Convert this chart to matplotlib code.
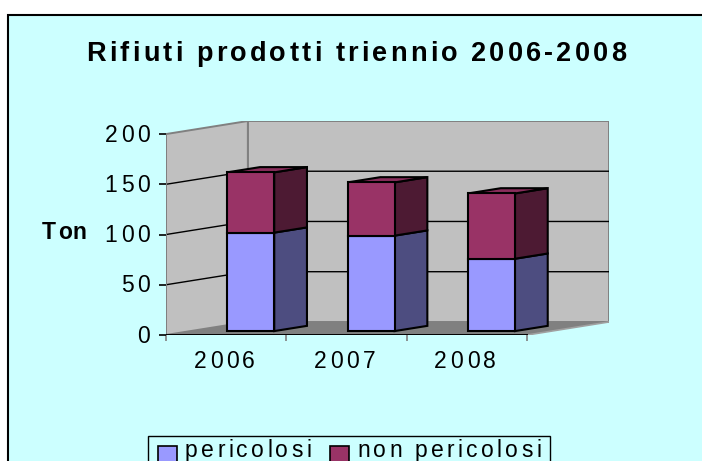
import matplotlib.pyplot as plt
from matplotlib.patches import Polygon, Rectangle

plt.rcParams['font.family'] = ['Liberation Sans', 'DejaVu Sans']

# Data (Ton)
years = ['2006', '2007', '2008']
pericolosi = [98, 95, 72]
non_pericolosi = [60, 53, 65]
series_names = ['pericolosi', 'non pericolosi']
y_ticks = [0, 50, 100, 150, 200]

# colours (front, side, top)
col_per = ('#9999FF', '#4D4D80', '#7A7ACC')
col_non = ('#993366', '#4D1A33', '#8A2E5C')
wall_col = '#C0C0C0'
floor_col = '#808080'
bg_col = '#CCFFFF'

# 3D look, expressed in data units
DX = 0.68     # depth offset along x
DY = 13.0     # depth offset along y
half_w = 0.195
f0 = 0.3      # where the bar starts in depth
bd = 0.4      # bar depth fraction
y_max = 200

W, H = 702, 461
fig = plt.figure(figsize=(W / 100, H / 100), dpi=100, facecolor='white')
renderer = fig.canvas.get_renderer()

# chart area background with frame
fig.patches.append(Rectangle((8 / W, -0.2), 1.2, (H - 15) / H + 0.2,
                             transform=fig.transFigure, facecolor=bg_col,
                             edgecolor='black', linewidth=1.5, zorder=-1))


def text_width(s, **kw):
    # width of s, measured with a trailing bar so spaces count
    if not s:
        return 0.0
    t = fig.text(0, 0, s + '|', **kw)
    a = t.get_window_extent(renderer).width
    t.remove()
    t = fig.text(0, 0, '|', **kw)
    b = t.get_window_extent(renderer).width
    t.remove()
    return a - b


def tracked_text(x, y, s, track, ha='left', **kw):
    # x, y in pixels from the top-left corner, y is the baseline
    total = text_width(s, **kw) + track * (len(s) - 1)
    if ha == 'center':
        start = x - total / 2
    elif ha == 'right':
        start = x - total
    else:
        start = x
    for k, ch in enumerate(s):
        if ch == ' ':
            continue
        px = start + text_width(s[:k], **kw) + track * k
        fig.text(px / W, 1 - y / H, ch, ha='left', va='baseline', **kw)


ax = fig.add_axes([166 / W, (H - 335) / H, (609 - 166) / W, (335 - 121) / H])
ax.set_facecolor('none')
ax.set_xlim(-0.5, len(years) - 0.5 + DX)
ax.set_ylim(0, y_max + DY)
for s in ax.spines.values():
    s.set_visible(False)

x0, x1 = -0.5, len(years) - 0.5

# walls and floor
ax.add_patch(Polygon([(x0, 0), (x1, 0), (x1 + DX, DY), (x0 + DX, DY)],
                     closed=True, facecolor=floor_col, edgecolor='none', zorder=1))
ax.add_patch(Polygon([(x0, 0), (x0 + DX, DY), (x0 + DX, y_max + DY), (x0, y_max)],
                     closed=True, facecolor=wall_col, edgecolor='#808080',
                     linewidth=1.4, zorder=1))
ax.add_patch(Polygon([(x0 + DX, DY), (x1 + DX, DY), (x1 + DX, y_max + DY), (x0 + DX, y_max + DY)],
                     closed=True, facecolor=wall_col, edgecolor='#808080',
                     linewidth=1.4, zorder=1))
ax.plot([x1, x1 + DX], [0, DY], color='#A0A0A0', lw=1.2, zorder=2)

# gridlines on the walls
for v in y_ticks[1:-1]:
    ax.plot([x0, x0 + DX, x1 + DX], [v, v + DY, v + DY], color='black', lw=1.0, zorder=2)

# axis lines
ax.plot([x0, x0], [0, y_max], color='#808080', lw=1.4, zorder=3)
ax.plot([x0, x1], [0, 0], color='black', lw=1.4, zorder=3)

ox, oy = f0 * DX, f0 * DY
sx, sy = bd * DX, bd * DY


def draw_segment(i, bottom, height, cols, top=False):
    a = i - half_w + ox
    b = i + half_w + ox
    y0 = bottom + oy
    y1 = bottom + height + oy
    kw = dict(closed=True, edgecolor='black', linewidth=1.5, zorder=5)
    ax.add_patch(Polygon([(b, y0), (b + sx, y0 + sy), (b + sx, y1 + sy), (b, y1)],
                         facecolor=cols[1], **kw))
    if top:
        ax.add_patch(Polygon([(a, y1), (b, y1), (b + sx, y1 + sy), (a + sx, y1 + sy)],
                             facecolor=cols[2], **kw))
    ax.add_patch(Polygon([(a, y0), (b, y0), (b, y1), (a, y1)],
                         facecolor=cols[0], **kw))


for i in range(len(years)):
    draw_segment(i, 0, pericolosi[i], col_per)
    draw_segment(i, pericolosi[i], non_pericolosi[i], col_non, top=True)

# tick marks (labels are drawn with letter spacing below)
ax.set_yticks(y_ticks)
ax.set_yticklabels([])
ax.tick_params(axis='y', length=5, width=1.2, color='black')
ax.set_xticks([x0 + k for k in range(len(years) + 1)])
ax.set_xticklabels([])
ax.tick_params(axis='x', length=4, width=1.2, color='#808080')


def to_px(x, y):
    dx, dy = ax.transData.transform((x, y))
    return dx, H - dy


tick_kw = dict(fontsize=16.5)
for v in y_ticks:
    px, py = to_px(x0, v)
    tracked_text(px - 16, py + 7.5, str(v), 3.5, ha='right', **tick_kw)
for i, yr in enumerate(years):
    px, py = to_px(i, 0)
    tracked_text(px - 2, py + 33, yr, 3.5, ha='center', **tick_kw)

# axis title and chart title
tracked_text(42, 239, 'Ton', 2.0, fontsize=16.5, fontweight='bold')
tracked_text(356.5, 61, 'Rifiuti prodotti triennio 2006-2008', 3.2, ha='center',
             fontsize=19.5, fontweight='bold')

# legend, drawn by hand so the text can keep its spacing
fig.patches.append(Rectangle((148 / W, 1 - 475 / H), (550 - 148) / W, (475 - 436) / H,
                             transform=fig.transFigure, facecolor=bg_col,
                             edgecolor='black', linewidth=1.0, zorder=1))
leg_cols = [col_per[0], col_non[0]]
leg_x = [158, 330]
for name, c, lx in zip(series_names, leg_cols, leg_x):
    fig.patches.append(Rectangle((lx / W, 1 - 465 / H), 19 / W, 19 / H,
                                 transform=fig.transFigure, facecolor=c,
                                 edgecolor='black', linewidth=1.2, zorder=2))
    tracked_text(lx + 27, 457, name, 3.3, fontsize=16.5, zorder=3)

fig.savefig('out.png', dpi=100, facecolor=fig.get_facecolor())
